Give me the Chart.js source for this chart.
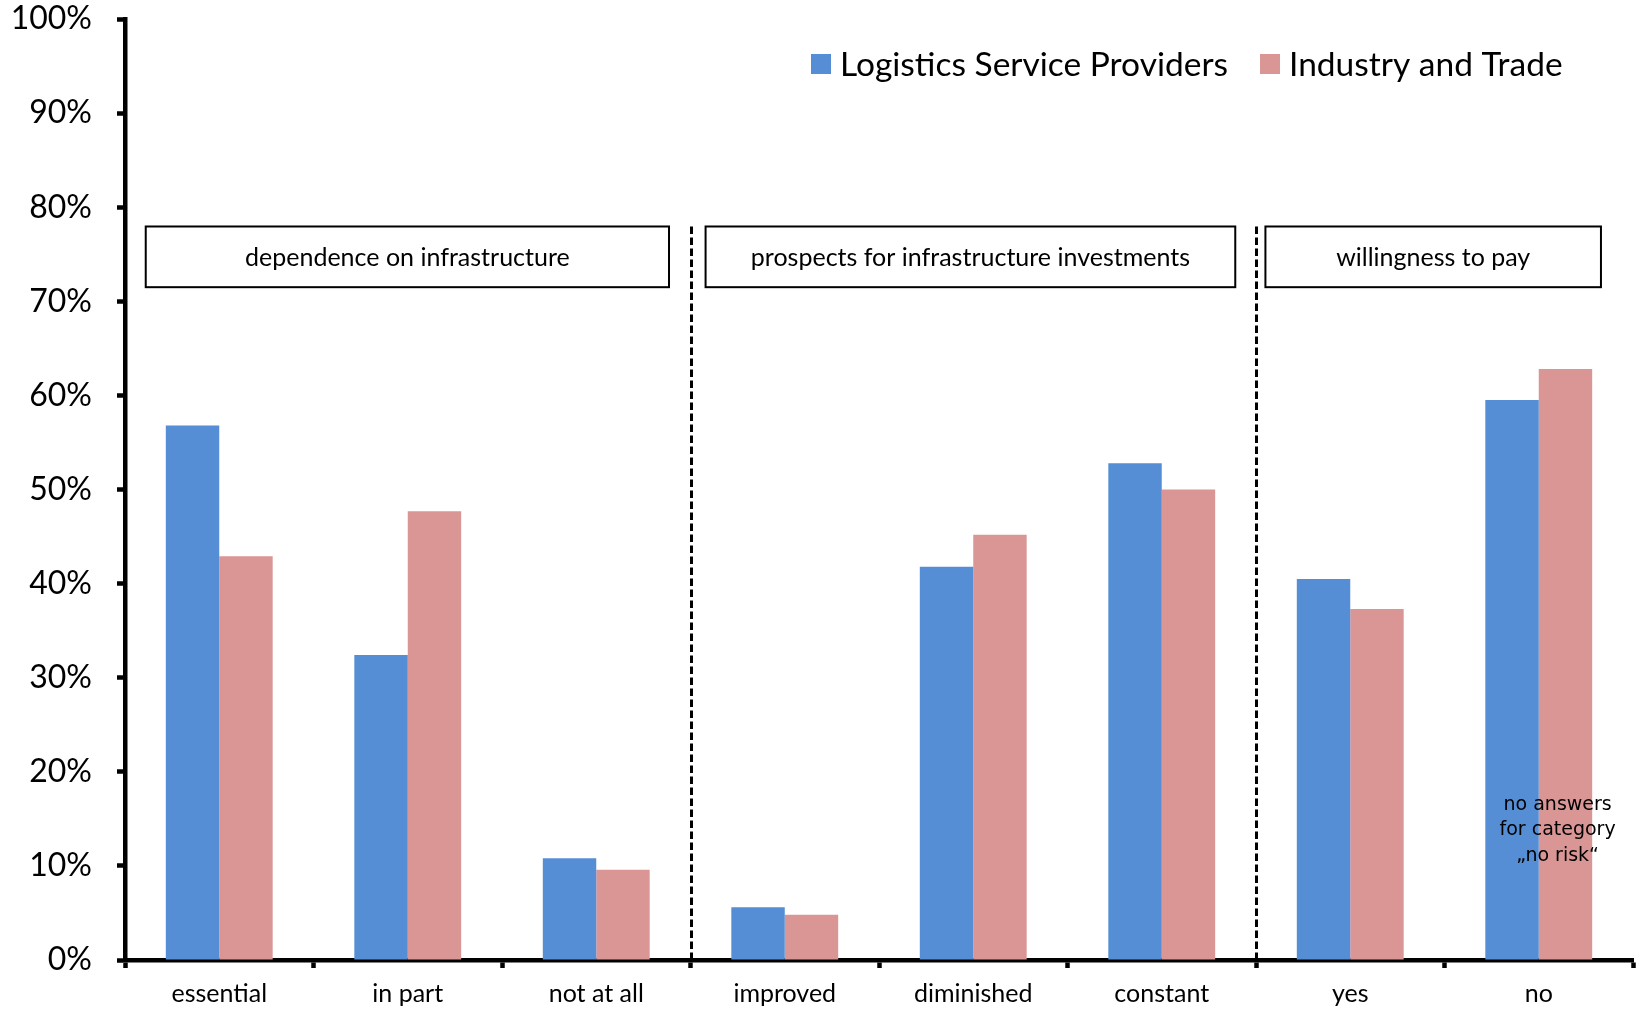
<!DOCTYPE html>
<html>
<head>
<meta charset="utf-8">
<script src="https://cdn.jsdelivr.net/npm/chart.js@4.4.1/dist/chart.umd.min.js"></script>
<style>
  html, body { margin: 0; padding: 0; background: #fff; }
  #wrap { width: 1643px; height: 1009px; }
</style>
</head>
<body>
<div id="wrap"><canvas id="chart" width="1643" height="1009"></canvas></div>
<script>
/* ---------- data ---------- */
const categories = ["essential", "in part", "not at all", "improved", "diminished", "constant", "yes", "no"];
const logisticsValues = [56.8, 32.4, 10.8, 5.6, 41.8, 52.8, 40.5, 59.5];
const industryValues = [42.9, 47.7, 9.6, 4.8, 45.2, 50.0, 37.3, 62.8];
const yTicks = [0, 10, 20, 30, 40, 50, 60, 70, 80, 90, 100];
const seriesNames = ["Logistics Service Providers", "Industry and Trade"];
const groupLabels = ["dependence on infrastructure", "prospects for infrastructure investments", "willingness to pay"];
const noteLines = ["no answers", "for category", "\u201Eno risk\u201C"];

/* ---------- styling / placement ---------- */
const BLUE = "#558ED5";
const PINK = "#D99694";
const FONT = "Lato, 'Open Sans', sans-serif";
// group boxes in category-index units (x) and percent (y)
const groupBoxes = [[-0.39, 2.386], [2.58, 5.39], [5.55, 7.33]];
const boxTop = 77.95, boxBottom = 71.5;
const separators = [2.5, 5.5];

const overlayPlugin = {
    id: "overlay",
    afterDraw(chart) {
        const { ctx, scales: { x, y } } = chart;
        ctx.save();

        // dashed separators
        ctx.strokeStyle = "#000";
        ctx.lineWidth = 3;
        ctx.setLineDash([7.5, 3.5]);
        separators.forEach(s => {
            const px = Math.round(x.getPixelForValue(s)) + 0.5;
            ctx.beginPath();
            ctx.moveTo(px, y.getPixelForValue(boxTop));
            ctx.lineTo(px, y.getPixelForValue(0));
            ctx.stroke();
        });
        ctx.setLineDash([]);

        // group boxes
        ctx.lineWidth = 2;
        ctx.font = "25px " + FONT;
        ctx.fillStyle = "#000";
        ctx.textAlign = "center";
        ctx.textBaseline = "middle";
        groupBoxes.forEach((b, i) => {
            const x0 = x.getPixelForValue(b[0]);
            const x1 = x.getPixelForValue(b[1]);
            const y0 = y.getPixelForValue(boxTop);
            const y1 = y.getPixelForValue(boxBottom);
            ctx.fillStyle = "#fff";
            ctx.fillRect(x0, y0, x1 - x0, y1 - y0);
            ctx.strokeRect(x0, y0, x1 - x0, y1 - y0);
            ctx.fillStyle = "#000";
            ctx.fillText(groupLabels[i], (x0 + x1) / 2, (y0 + y1) / 2 + 1);
        });

        // legend
        ctx.font = "33.5px " + FONT;
        ctx.textAlign = "left";
        let lx = 811;
        const ly = 64;
        [BLUE, PINK].forEach((c, i) => {
            ctx.fillStyle = c;
            ctx.fillRect(lx, ly - 10, 20, 20);
            ctx.fillStyle = "#000";
            ctx.fillText(seriesNames[i], lx + 29, ly + 1);
            lx += 29 + ctx.measureText(seriesNames[i]).width + 32;
        });

        // note on last category
        ctx.font = "19px 'DejaVu Sans', sans-serif";
        ctx.textAlign = "center";
        const nx = x.getPixelForValue(7.1);
        noteLines.forEach((t, i) => {
            ctx.fillText(t, nx, 805 + i * 25.5);
        });

        ctx.restore();
    }
};

new Chart(document.getElementById("chart"), {
    type: "bar",
    data: {
        labels: categories,
        datasets: [
            { label: seriesNames[0], data: logisticsValues, backgroundColor: BLUE },
            { label: seriesNames[1], data: industryValues, backgroundColor: PINK }
        ]
    },
    options: {
        responsive: false,
        animation: false,
        devicePixelRatio: 1,
        layout: { padding: { top: 19, right: 10, left: 0, bottom: 0 } },
        datasets: { bar: { barPercentage: 1, categoryPercentage: 0.567 } },
        plugins: { legend: { display: false }, tooltip: { enabled: false } },
        scales: {
            x: {
                offset: true,
                grid: { offset: true, drawOnChartArea: false, drawTicks: true, tickLength: 8, tickWidth: 4.5, tickColor: "#000" },
                border: { display: true, color: "#000", width: 4.5 },
                ticks: { color: "#000", font: { family: FONT, size: 25 }, padding: 11, maxRotation: 0 },
                afterFit: s => { s.height = 49; }
            },
            y: {
                min: 0,
                max: 100,
                afterBuildTicks: s => { s.ticks = yTicks.map(v => ({ value: v })); },
                grid: { drawOnChartArea: false, drawTicks: true, tickLength: 8, tickWidth: 4.5, tickColor: "#000" },
                border: { display: true, color: "#000", width: 4.5 },
                ticks: { color: "#000", font: { family: FONT, size: 32, lineHeight: 1 }, padding: 25, callback: v => v + "%" },
                afterFit: s => { s.width = 125; s.paddingTop = 0; s.paddingBottom = 0; }
            }
        }
    },
    plugins: [overlayPlugin]
});
</script>
</body>
</html>
